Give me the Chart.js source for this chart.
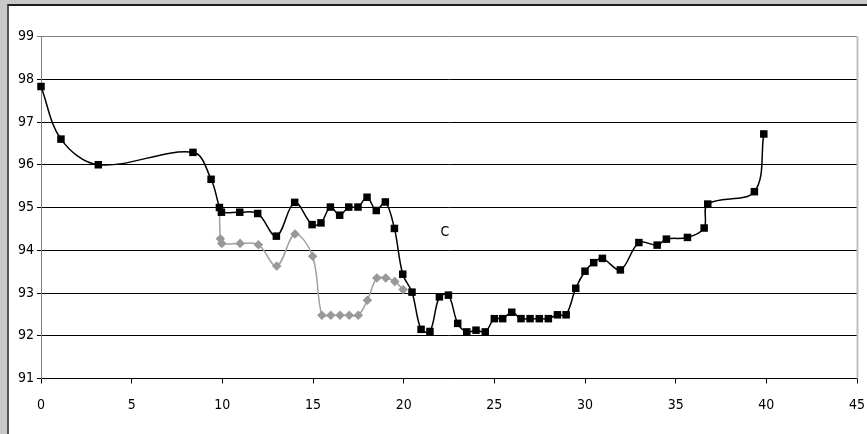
<!DOCTYPE html>
<html>
<head>
<meta charset="utf-8">
<script src="https://cdn.jsdelivr.net/npm/chart.js@4/dist/chart.umd.min.js"></script>
<style>
  html, body { margin: 0; padding: 0; width: 867px; height: 434px; overflow: hidden; background: #c8c8c8; }
  #frame { position: absolute; left: 7px; top: 4px; width: 860px; height: 430px; background: #ffffff;
           border-left: 2px solid #555555; border-top: 2px solid #1e1e1e; box-sizing: border-box; }
  #c { position: absolute; left: 0; top: 0; }
</style>
</head>
<body>
<div id="frame"></div>
<canvas id="c" width="867" height="434"></canvas>
<script>
// ---- data ----
const blackX = [0, 1.1, 3.16, 8.38, 9.38, 9.84, 9.95, 10.96, 11.95, 12.98, 13.99, 14.95, 15.44, 15.96, 16.47, 16.97, 17.48, 17.98, 18.49, 18.99, 19.49, 19.95, 20.46, 20.96, 21.45, 21.97, 22.47, 22.98, 23.48, 23.99, 24.5, 25.0, 25.46, 25.96, 26.47, 26.97, 27.48, 27.98, 28.48, 28.96, 29.49, 30.0, 30.48, 30.96, 31.95, 32.97, 33.98, 34.49, 35.65, 36.57, 36.77, 39.34, 39.86];
const blackY = [97.83, 96.6, 96.0, 96.29, 95.66, 95.0, 94.89, 94.89, 94.86, 94.33, 95.12, 94.6, 94.64, 95.01, 94.82, 95.01, 95.01, 95.24, 94.93, 95.13, 94.51, 93.44, 93.02, 92.15, 92.1, 92.91, 92.95, 92.29, 92.09, 92.13, 92.09, 92.4, 92.4, 92.55, 92.4, 92.4, 92.4, 92.4, 92.49, 92.49, 93.11, 93.51, 93.71, 93.81, 93.54, 94.18, 94.12, 94.26, 94.30, 94.52, 95.08, 95.37, 96.72];
const grayX = [9.84, 9.89, 9.97, 10.98, 11.99, 13.0, 14.01, 14.98, 15.49, 15.98, 16.49, 17.0, 17.5, 18.0, 18.52, 19.01, 19.51, 19.97];
const grayY = [95.0, 94.27, 94.16, 94.16, 94.13, 93.63, 94.38, 93.86, 92.48, 92.48, 92.48, 92.48, 92.48, 92.83, 93.35, 93.35, 93.27, 93.08];
const xTicks = [0, 5, 10, 15, 20, 25, 30, 35, 40, 45];
const yTicks = [91, 92, 93, 94, 95, 96, 97, 98, 99];
const noteText = "C";
const noteX = 22.28;
const noteY = 94.43;

// pick the narrowest installed sans font (reference uses a condensed face)
function pickFont() {
  const cands = ['Liberation Sans Narrow', 'Arial Narrow', 'DejaVu Sans Condensed'];
  const cv = document.createElement('canvas').getContext('2d');
  const probe = '0123456789 Cmwx';
  for (const f of cands) {
    let diff = false;
    for (const base of ['monospace', 'serif']) {
      cv.font = '15px ' + base;
      const w0 = cv.measureText(probe).width;
      cv.font = "15px '" + f + "', " + base;
      if (Math.abs(cv.measureText(probe).width - w0) > 0.5) diff = true;
    }
    if (diff) return "'" + f + "', sans-serif";
  }
  return "'Liberation Sans', sans-serif";
}
const FONT = pickFont();
const FSIZE = FONT.indexOf('Condensed') >= 0 ? 14 : 15.5;

const toPts = (xs, ys) => xs.map((x, i) => ({ x: x, y: ys[i] }));

const extras = {
  id: 'extras',
  afterDraw(chart) {
    const { ctx, chartArea: a, scales } = chart;
    ctx.save();
    ctx.strokeStyle = '#c0c0c0';
    ctx.lineWidth = 2;
    ctx.beginPath();
    ctx.moveTo(Math.round(a.right) + 0.5, a.top);
    ctx.lineTo(Math.round(a.right) + 0.5, a.bottom);
    ctx.stroke();
    ctx.fillStyle = '#000';
    ctx.font = FSIZE + 'px ' + FONT;
    ctx.textAlign = 'center';
    ctx.textBaseline = 'middle';
    ctx.fillText(noteText, scales.x.getPixelForValue(noteX), scales.y.getPixelForValue(noteY));
    ctx.restore();
  }
};

new Chart(document.getElementById('c'), {
  type: 'scatter',
  data: {
    datasets: [
      {
        data: toPts(blackX, blackY),
        showLine: true,
        borderColor: '#000000',
        borderWidth: 1.5,
        backgroundColor: '#000000',
        pointStyle: 'rect',
        pointRadius: 5.3,
        pointBorderWidth: 0,
        pointBackgroundColor: '#000000',
        tension: 0.35,
        clip: false
      },
      {
        data: toPts(grayX, grayY),
        showLine: true,
        borderColor: '#a0a0a0',
        borderWidth: 1.5,
        backgroundColor: '#999999',
        pointStyle: 'rectRot',
        pointRadius: grayX.map((_, i) => i === 0 ? 0 : 4.8),
        pointBorderWidth: 0,
        pointBackgroundColor: '#999999',
        tension: 0.35,
        clip: false
      }
    ]
  },
  options: {
    responsive: false,
    animation: false,
    events: [],
    layout: { padding: { left: 0, top: 36.5, right: 10, bottom: 0 } },
    plugins: { legend: { display: false }, tooltip: { enabled: false } },
    scales: {
      x: {
        type: 'linear',
        min: 0, max: 45,
        afterBuildTicks: s => { s.ticks = xTicks.map(v => ({ value: v })); },
        afterFit: s => { s.height = 55.5; s.paddingLeft = 0; s.paddingRight = 0; },
        grid: { drawOnChartArea: false, drawTicks: true, tickLength: 5, color: '#000000' },
        border: { color: '#000000', width: 1 },
        ticks: { color: '#000000', font: { family: FONT, size: FSIZE }, padding: 13, maxRotation: 0 }
      },
      y: {
        type: 'linear',
        min: 91, max: 99,
        afterBuildTicks: s => { s.ticks = yTicks.map(v => ({ value: v })); },
        afterFit: s => { s.width = 41; s.paddingTop = 0; s.paddingBottom = 0; },
        grid: {
          drawTicks: true, tickLength: 4,
          color: c => (c.tick && c.tick.value === 99) ? '#808080' : '#000000',
          lineWidth: 1
        },
        border: { color: '#808080', width: 1 },
        ticks: { color: '#000000', font: { family: FONT, size: FSIZE }, padding: 3 }
      }
    }
  },
  plugins: [extras]
});
</script>
</body>
</html>
